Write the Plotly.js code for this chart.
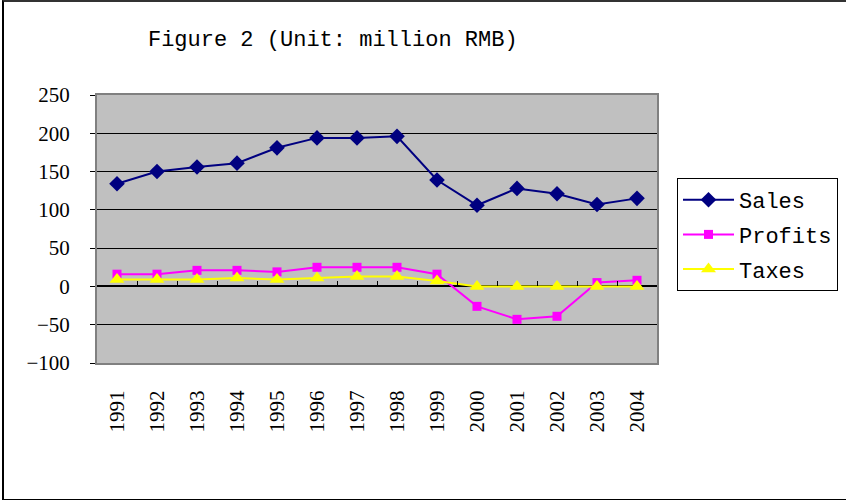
<!DOCTYPE html>
<html>
<head>
<meta charset="utf-8">
<script src="https://cdn.plot.ly/plotly-3.0.1.min.js"></script>
<style>
  html, body { margin: 0; padding: 0; background: #fff; }
  #wrap { position: relative; width: 846px; height: 500px; }
  #chart { width: 846px; height: 500px; }
  #frame { position: absolute; left: 2px; top: 0; width: 844px; height: 497px;
           border-top: 2px solid #333; border-left: 2px solid #000; border-bottom: 2px solid #000;
           pointer-events: none; box-sizing: content-box; }
</style>
</head>
<body>
<div id="wrap"><div id="chart"></div><div id="frame"></div></div>
<script>
const years = ['1991','1992','1993','1994','1995','1996','1997','1998','1999','2000','2001','2002','2003','2004'];
const sales = [134, 150, 156, 161, 181, 194, 194, 196, 139, 106, 128, 121, 107, 115];
const profits = [16, 16, 21, 21, 19, 25, 25, 25, 16, -26, -43, -39, 5, 8];
const taxes = [9, 9, 9, 11, 9, 11, 13, 13, 7, 0, 0, 0, 0, 0];
const yTicks = [-100, -50, 0, 50, 100, 150, 200, 250];

const MONO = 'Liberation Mono';
const SERIF = 'Liberation Serif';

const traces = [
  { x: years, y: sales, name: 'Sales', type: 'scatter', mode: 'lines+markers',
    line: { color: '#000080', width: 2 }, marker: { symbol: 'diamond', size: 12, color: '#000080' },
    legendgroup: 'a' },
  { x: years, y: profits, name: 'Profits', type: 'scatter', mode: 'lines+markers',
    line: { color: '#FF00FF', width: 2 }, marker: { symbol: 'square', size: 9, color: '#FF00FF' },
    legendgroup: 'b' },
  { x: years, y: taxes, name: 'Taxes', type: 'scatter', mode: 'lines+markers', xaxis: 'x2',
    line: { color: '#FFFF00', width: 2 }, marker: { symbol: 'triangle-up', size: 13, color: '#FFFF00' },
    legendgroup: 'c' }
];

const layout = {
  width: 846, height: 500,
  margin: { l: 97, r: 189, t: 95, b: 137, autoexpand: false },
  paper_bgcolor: '#ffffff',
  plot_bgcolor: '#C0C0C0',
  font: { family: SERIF, size: 21, color: '#000' },
  title: { text: 'Figure 2 (Unit: million RMB)', font: { family: MONO, size: 22, color: '#000' },
           xref: 'paper', x: 0.091, xanchor: 'left', yref: 'container', y: 0.924, yanchor: 'middle' },
  xaxis: {
    type: 'category', range: [-0.5, 13.5], showgrid: false,
    showline: true, linecolor: '#808080', linewidth: 2, mirror: true,
    ticks: '', tickangle: -90, ticklabelstandoff: 17,
    tickfont: { family: SERIF, size: 21, color: '#000' }
  },
  xaxis2: {
    type: 'category', overlaying: 'x', anchor: 'free', position: 100 / 350,
    range: [-0.5, 13.5], showgrid: false, showline: false, showticklabels: false,
    ticks: 'inside', ticklen: 5, tickwidth: 1, tickcolor: '#000', tickson: 'boundaries'
  },
  yaxis: {
    range: [-100, 250], tickvals: yTicks, ticktext: yTicks.map(v => v < 0 ? '\u2212' + Math.abs(v) : String(v)),
    showgrid: true, gridcolor: '#000', gridwidth: 1,
    zeroline: true, zerolinecolor: '#000', zerolinewidth: 2,
    showline: true, linecolor: '#808080', linewidth: 2, mirror: true,
    ticks: 'outside', ticklen: 5, tickcolor: '#000', ticklabelstandoff: 16,
    tickfont: { family: SERIF, size: 21, color: '#000' }
  },
  showlegend: true,
  legend: {
    x: (677 - 97) / 560, xanchor: 'left', y: (363 - 178) / 268, yanchor: 'top',
    bgcolor: '#fff', bordercolor: '#000', borderwidth: 1,
    font: { family: MONO, size: 22, color: '#000' },
    tracegroupgap: 3, itemwidth: 51
  }
};

Plotly.newPlot('chart', traces, layout, { staticPlot: true, displayModeBar: false });
</script>
</body>
</html>
